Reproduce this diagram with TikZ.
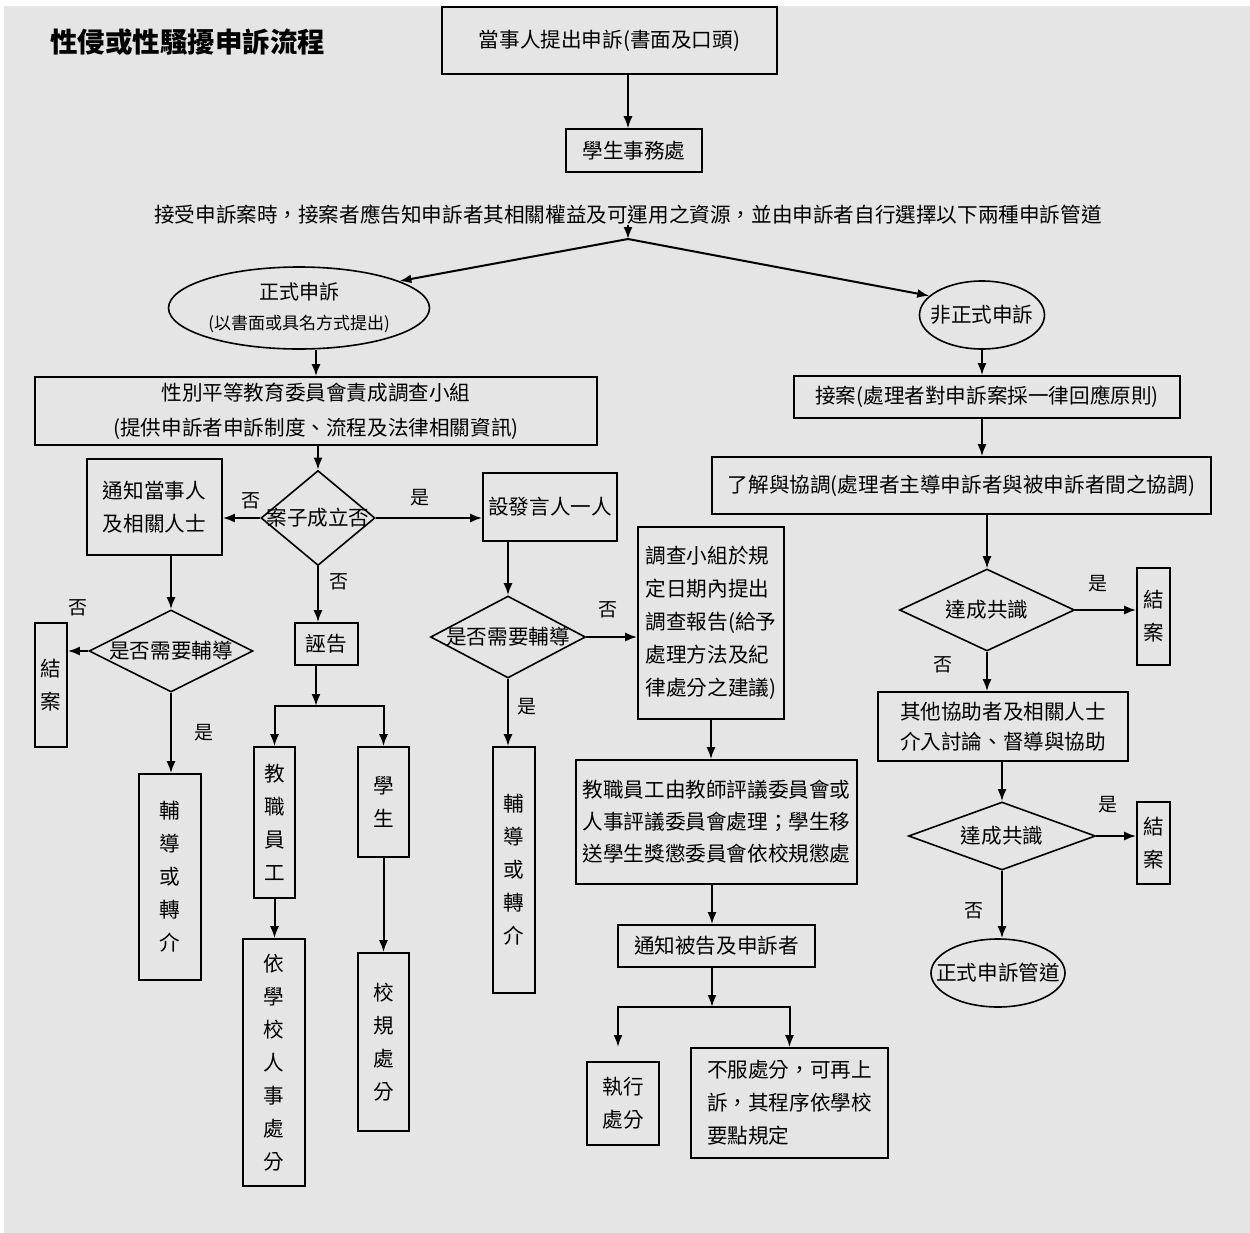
\documentclass[tikz,border=0pt]{standalone}
\usepackage{fontspec}
\setmainfont{Noto Sans CJK TC}
\usetikzlibrary{arrows.meta,shapes.geometric}
\definecolor{bggray}{HTML}{E5E5E5}
\newcommand{\nosizebox}[1]{\makebox[0pt]{\raisebox{-0.38em}[0pt][0pt]{#1}}}
\tikzset{
  every node/.style={font=\fontsize{10.3}{16.5}\selectfont, inner sep=0pt},
  box/.style={draw, line width=0.8pt, align=center},
  dia/.style={draw, diamond, line width=0.8pt},
  oval/.style={draw, ellipse, line width=0.8pt},
  yn/.style={font=\fontsize{9.5}{11}\selectfont},
  line/.style={line width=1pt, -{Latex[length=6pt,width=4.5pt]}},
}

\begin{document}
\begin{tikzpicture}[x=0.5pt, y=-0.5pt]
\useasboundingbox (0,0) rectangle (1250,1233);
\fill[bggray] (4,6) rectangle (1250,1233);

\node[anchor=west, font=\fontsize{13.75}{16}\selectfont\bfseries] (title) at (50,42) {性侵或性騷擾申訴流程};
\node[box, minimum width=167.5pt, minimum height=33.5pt] (start) at (609.5,40.5) {當事人提出申訴(書面及口頭)};
\node[box, minimum width=68pt, minimum height=21.5pt] (office) at (634,150.5) {學生事務處};
\node (intro) at (628,215) {接受申訴案時，接案者應告知申訴者其相關權益及可運用之資源，並由申訴者自行選擇以下兩種申訴管道};
\coordinate (peak) at (628,239);

% formal
\node[oval, minimum width=130.5pt, minimum height=41pt] (formal) at (299,308)
  {\makebox[0pt]{\raisebox{-0.25em}[0pt][0pt]{\fontsize{10}{15}\selectfont\begin{tabular}{@{}c@{}}正式申訴\\{\fontsize{8.5}{15}\selectfont(以書面或具名方式提出)}\end{tabular}}}};
\node[box, minimum width=281pt, minimum height=34pt, font=\fontsize{10.3}{17.5}\selectfont] (committee) at (316,411)
  {性別平等教育委員會責成調查小組\\(提供申訴者申訴制度、流程及法律相關資訊)};
\node[dia, minimum width=57pt, minimum height=47.5pt] (valid) at (318,518) {\nosizebox{案子成立否}};
\node[box, minimum width=67.5pt, minimum height=48pt] (notify) at (154.5,507) {通知當事人\\及相關人士};
\node[box, minimum width=67pt, minimum height=34pt] (speaker) at (550,507) {設發言人一人};
\node[dia, minimum width=82pt, minimum height=41pt] (needA) at (171,651) {\nosizebox{是否需要輔導}};
\node[box, minimum width=16pt, minimum height=62pt] (closeA) at (51,685) {結\\案};
\node[box, minimum width=31pt, minimum height=103pt] (counselA) at (170,877) {輔\\導\\或\\轉\\介};
\node[box, minimum width=31.5pt, minimum height=21pt] (false) at (326.5,644) {誣告};
\coordinate (forkA) at (316,706);
\node[box, minimum width=20.5pt, minimum height=75.5pt] (staff) at (274.5,822.5) {教\\職\\員\\工};
\node[box, minimum width=25.5pt, minimum height=55pt] (student) at (383.5,802) {學\\生};
\node[box, minimum width=31pt, minimum height=123.5pt] (staffpen) at (274,1062.5) {依\\學\\校\\人\\事\\處\\分};
\node[box, minimum width=25.5pt, minimum height=89pt] (studpen) at (383.5,1042) {校\\規\\處\\分};
\node[dia, minimum width=77.5pt, minimum height=41pt] (needB) at (508,637) {\nosizebox{是否需要輔導}};
\node[box, minimum width=21pt, minimum height=123pt] (counselB) at (514,870) {輔\\導\\或\\轉\\介};
\node[box, align=left, minimum width=73pt, minimum height=96pt] (report) at (711,623)
  {調查小組於規\\定日期內提出\\調查報告(給予\\處理方法及紀\\律處分之建議)};
\node[box, minimum width=140.5pt, minimum height=62pt, font=\fontsize{10.3}{16}\selectfont] (review) at (716.5,822)
  {教職員工由教師評議委員會或\\人事評議委員會處理；學生移\\送學生獎懲委員會依校規懲處};
\node[box, minimum width=98.5pt, minimum height=21pt] (inform) at (716.5,946) {通知被告及申訴者};
\coordinate (forkB) at (712,1007);
\coordinate (execTop) at (618,1047);
\node[box, minimum width=36pt, minimum height=41.5pt] (execute) at (623,1103.5) {執行\\處分};
\node[box, align=left, minimum width=98.5pt, minimum height=55pt] (appeal) at (789.5,1103)
  {不服處分，可再上\\訴，其程序依學校\\要點規定};

% informal
\node[oval, minimum width=62.5pt, minimum height=34pt] (informal) at (982,315) {\nosizebox{非正式申訴}};
\node[box, minimum width=193pt, minimum height=21pt] (accept) at (987,397) {接案(處理者對申訴案採一律回應原則)};
\node[box, minimum width=249.5pt, minimum height=28.5pt] (mediate) at (961.5,485.5) {了解與協調(處理者主導申訴者與被申訴者間之協調)};
\node[dia, minimum width=87.5pt, minimum height=41pt] (agreeA) at (987,610) {\nosizebox{達成共識}};
\node[box, minimum width=16.5pt, minimum height=48.5pt] (closeB) at (1153.5,616.5) {結\\案};
\node[box, minimum width=125pt, minimum height=34.5pt, font=\fontsize{10.3}{15}\selectfont] (others) at (1003,726.5)
  {其他協助者及相關人士\\介入討論、督導與協助};
\node[dia, minimum width=93.5pt, minimum height=34pt] (agreeB) at (1002,836) {\nosizebox{達成共識}};
\node[box, minimum width=16.5pt, minimum height=41pt] (closeC) at (1153.5,843) {結\\案};
\node[oval, minimum width=67pt, minimum height=34pt] (toformal) at (998,973) {\nosizebox{正式申訴管道}};

\path[line]
(start.south -| peak) edge[line width=0.6pt] (office.north -| peak)
(intro.south -| peak) edge (peak)
(peak) edge (formal.15)
(peak) edge (informal.160)
(formal.south -| committee.north) edge (committee.north)
(committee.south -| valid.north) edge (valid.north)
(valid.west) edge node[yn, above=4pt, pos=.25] {否} (valid.west -| notify.east)
(valid.east) edge node[yn, above=5.5pt, pos=.42] {是} (valid.east -| speaker.west)
(valid.south) edge node[yn, right=5pt, pos=.27] {否} (valid.south |- false.north)
(false.south -| forkA) edge (forkA)
(staff.south) edge (staff.south |- staffpen.north)
(student.south) edge (student.south |- studpen.north)
(notify.south -| needA.north) edge (needA.north)
(needA.west) edge node[yn, above=17pt, pos=.5] {否} (needA.west -| closeA.east)
(needA.south) edge node[yn, right=11pt, pos=.5] {是} (needA.south |- counselA.north)
(speaker.south -| needB.north) edge (needB.north)
(needB.east) edge node[yn, above=9pt, pos=.42] {否} (needB.east -| report.west)
(needB.south) edge node[yn, right=4pt, pos=.42] {是} (needB.south |- counselB.north)
(report.south) edge (report.south |- review.north)
(review.south -| forkB) edge (inform.north -| forkB)
(inform.south -| forkB) edge (forkB)
(informal.south) edge (informal.south |- accept.north)
(accept.south -| informal.south) edge (mediate.north -| informal.south)
(mediate.south -| agreeA.north) edge[line width=0.6pt] (agreeA.north)
(agreeA.east) edge node[yn, above=8.5pt, pos=.38] {是} (agreeA.east -| closeB.west)
(agreeA.south) edge node[yn, left=17pt, pos=.34] {否} (agreeA.south |- others.north)
(others.south -| agreeB.north) edge (agreeB.north)
(agreeB.east) edge node[yn, above=11pt, pos=.3] {是} (agreeB.east -| closeC.west)
(agreeB.south) edge node[yn, left=9pt, pos=.6] {否} (agreeB.south |- toformal.north)
;
\draw[line] (forkA) -| (staff);
\draw[line] (forkA) -| (student);
\draw[line] (forkB) -| (execTop);
\draw[line] (forkB) -| (appeal);
\end{tikzpicture}
\end{document}
